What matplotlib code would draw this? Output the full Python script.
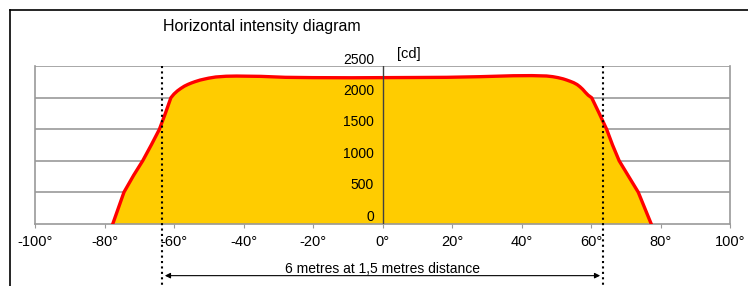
import numpy as np
import matplotlib.pyplot as plt
from matplotlib.lines import Line2D

plt.rcParams['font.family'] = ['Liberation Sans', 'DejaVu Sans']

# horizontal intensity curve (angle in degrees, intensity in cd)
angles = [-77.6, -74.4, -71.6, -69.0, -66.5, -64.2, -62.5, -60.9, -60.0, -59.0,
          -58.0, -57.0, -56.0, -55.0, -54.0, -52.5, -51.0, -50.0, -48.0, -45.0,
          -42.0, -35.0, -28.0, -20.0, -9.0, 0.0, 9.0, 18.5, 28.0, 37.6,
          43.0, 47.2, 49.0, 50.5, 52.0, 53.0, 54.0, 55.0, 56.0, 56.8,
          57.6, 58.4, 59.2, 60.2, 62.3, 64.5, 66.2, 68.1, 70.9, 73.6,
          77.3]
intensity = [0, 500, 770, 1000, 1255, 1500, 1750, 2000, 2060, 2110,
             2150, 2185, 2212, 2235, 2255, 2281, 2300, 2312, 2330, 2342,
             2345, 2340, 2325, 2320, 2318, 2320, 2322, 2325, 2335, 2350,
             2352, 2346, 2335, 2320, 2300, 2282, 2262, 2240, 2210, 2176,
             2135, 2085, 2040, 2000, 1760, 1500, 1250, 1000, 745, 500,
             0]

x_ticks = [-100, -80, -60, -40, -20, 0, 20, 40, 60, 80, 100]
x_labels = ['-100°', '-80°', '-60°', '-40°', '-20°', '0°', '20°', '40°', '60°', '80°', '100°']
y_ticks = [0, 500, 1000, 1500, 2000, 2500]

# 6 m wide at 1.5 m distance -> half angle
half_angle = np.degrees(np.arctan(3.0 / 1.5))

W, H = 748, 286
fig = plt.figure(figsize=(W / 100, H / 100), dpi=100)
ax = fig.add_axes([35 / W, (H - 223.7) / H, (730 - 35) / W, (223.7 - 66.3) / H])
ax.set_xlim(-100, 100)
ax.set_ylim(0, 2500)

# outer frame (top and left only)
fig.add_artist(Line2D([10 / W, 10 / W], [0, 1 - 10 / H], color='black', lw=1.2))
fig.add_artist(Line2D([10 / W, 1], [1 - 10 / H, 1 - 10 / H], color='black', lw=1.2))

grid_col = '#999999'
for v in y_ticks[1:]:
    ax.axhline(v, color=grid_col, lw=1.2, zorder=1)

ax.spines['top'].set_visible(False)
for s in ['left', 'right', 'bottom']:
    ax.spines[s].set_color(grid_col)
    ax.spines[s].set_linewidth(1.2)

ax.fill_between(angles, intensity, 0, color='#FFCC00', lw=0, zorder=2)
ax.plot(angles, intensity, color='#FF0000', lw=2.4, solid_joinstyle='round', zorder=3)

# vertical axis at 0
ax.plot([0, 0], [0, 2500], color='#404040', lw=1.0, zorder=4)

ax.set_xticks(x_ticks)
ax.set_xticklabels(x_labels, fontsize=10.5)
ax.tick_params(axis='x', length=3, color=grid_col, pad=5)
ax.set_yticks([])

for v in y_ticks:
    ax.annotate(str(v), xy=(0, v), xytext=(-6, 2), textcoords='offset points',
                ha='right', va='baseline', fontsize=10, zorder=5)
ax.annotate('[cd]', xy=(4.3, 2500), xytext=(0, 4), textcoords='offset points',
            ha='left', va='bottom', fontsize=10.5)

# beam edges
for a in (-half_angle, half_angle):
    ax.plot([a, a], [2500, -1000], color='black', lw=1.5, ls=(0, (1, 1.6)),
            clip_on=False, zorder=6)

ax.annotate('', xy=(-half_angle, -0.33), xytext=(half_angle, -0.33),
            xycoords=('data', 'axes fraction'), textcoords=('data', 'axes fraction'),
            arrowprops=dict(arrowstyle='<|-|>', color='black', lw=0.8,
                            mutation_scale=8, shrinkA=2, shrinkB=2))
ax.text(0, -0.285, '6 metres at 1,5 metres distance', transform=ax.get_xaxis_transform(),
        ha='center', va='center', fontsize=10)

fig.text(163 / W, 1 - 27 / H, 'Horizontal intensity diagram', ha='left', va='center',
         fontsize=11.5)

fig.savefig('out.png', dpi=100)
